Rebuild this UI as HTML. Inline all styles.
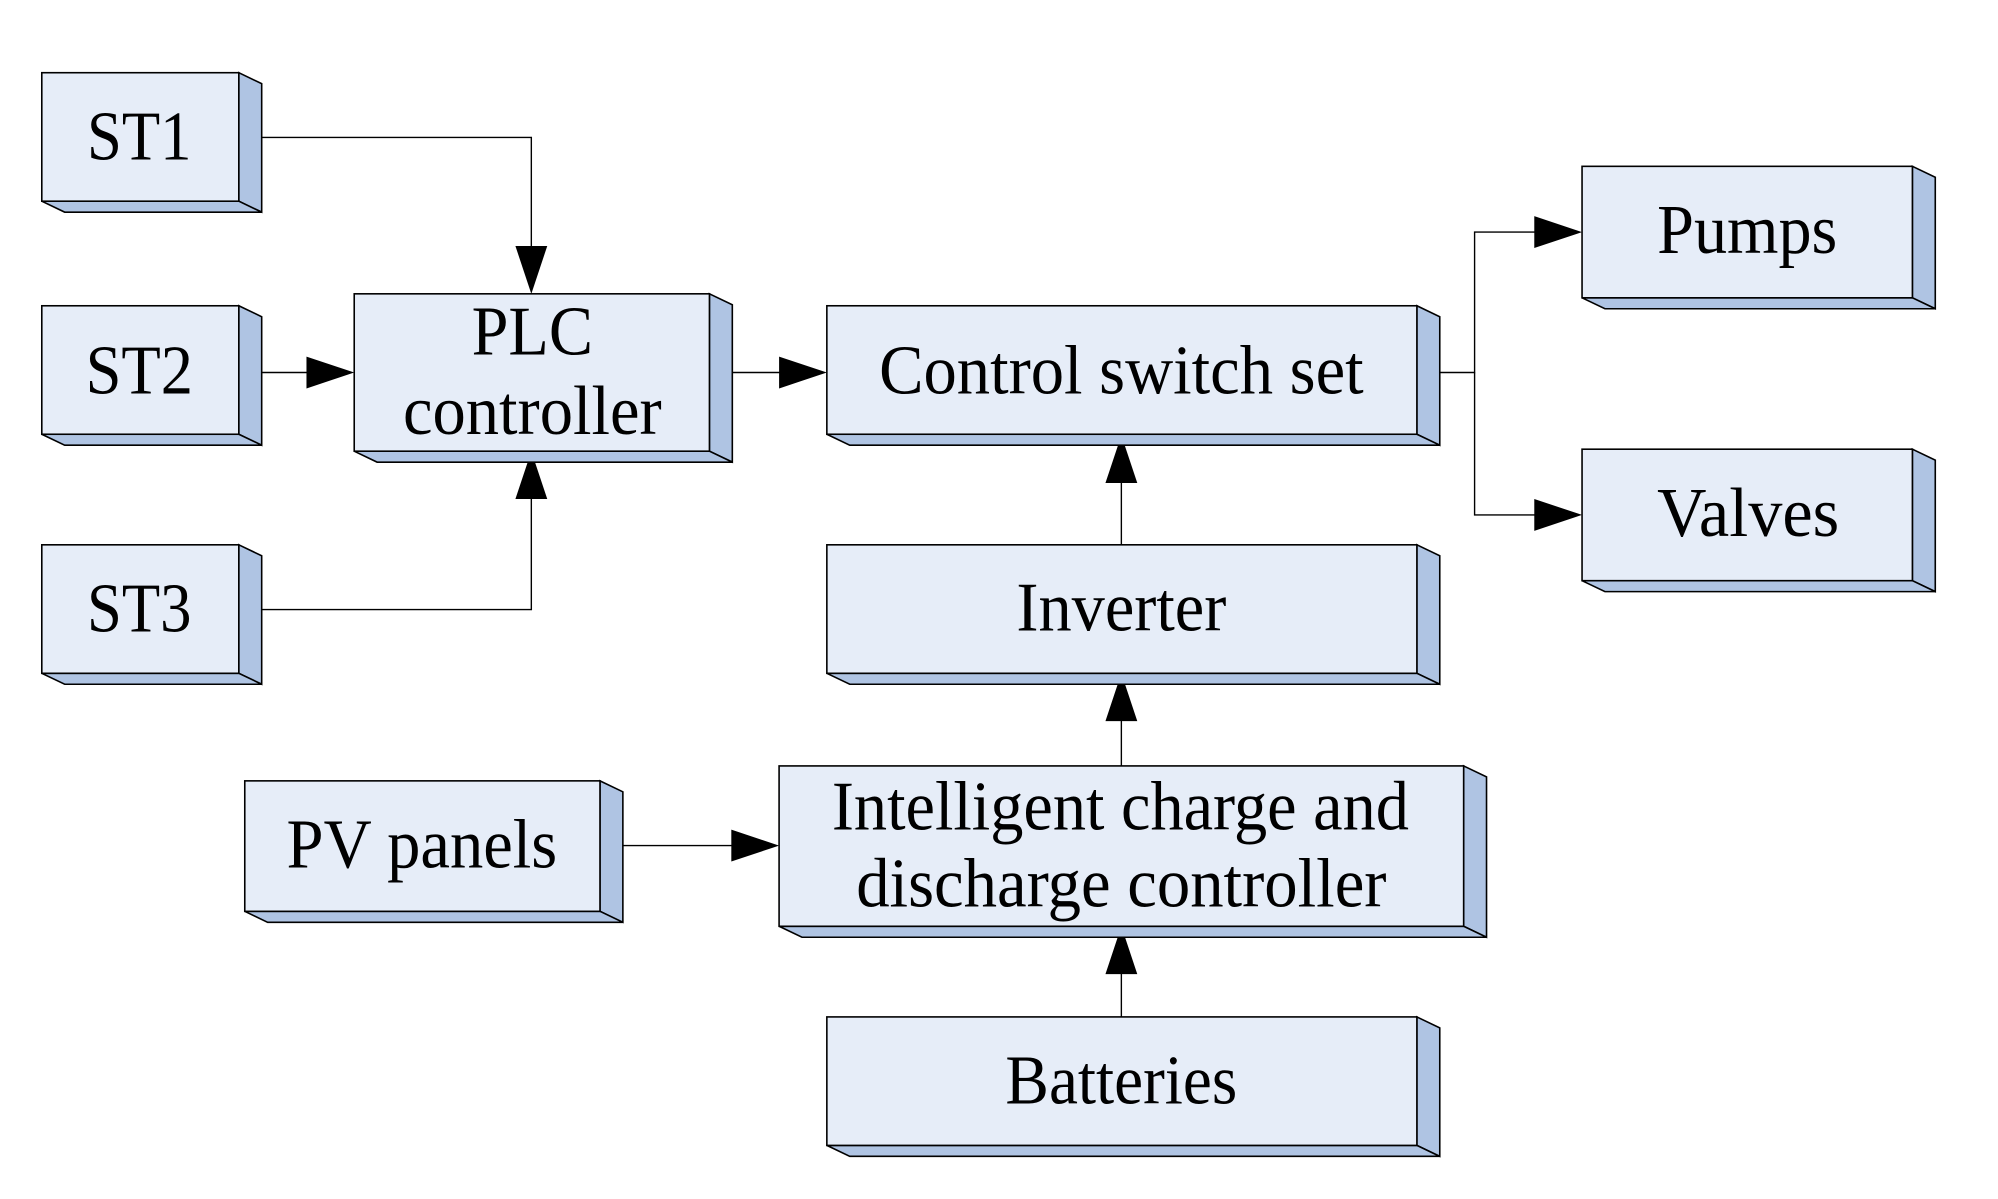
<!DOCTYPE html>
<html><head><meta charset="utf-8"><style>
html,body{margin:0;padding:0;background:#fff;}
svg{display:block;}
text{font-family:"Liberation Serif",serif;font-size:70px;fill:#000;text-anchor:middle;}
.f{fill:#e6edf8;stroke:#000;stroke-width:1.6;}
.s{fill:#afc4e3;stroke:#000;stroke-width:1.6;stroke-linejoin:miter;}
.l{stroke:#000;stroke-width:1.4;fill:none;}
.a{fill:#000;}
</style></head><body>
<svg width="1998" height="1199" viewBox="0 0 1998 1199" xmlns="http://www.w3.org/2000/svg">
<g transform="scale(0.995 0.996)">
<!-- connectors -->
<polyline class="l" points="240,138 534,138 534,260"/>
<polygon class="a" points="518,247 550,247 534,295"/>
<line class="l" x1="240" y1="374" x2="320" y2="374"/>
<polygon class="a" points="308,358 308,390 356,374"/>
<polyline class="l" points="240,612 534,612 534,488"/>
<polygon class="a" points="518,501 550,501 534,453"/>
<line class="l" x1="713" y1="374" x2="795" y2="374"/>
<polygon class="a" points="783,358 783,390 831,374"/>
<polyline class="l" points="1424,374 1482,374 1482,233 1555,233"/>
<polygon class="a" points="1542,217 1542,249 1590,233"/>
<polyline class="l" points="1482,374 1482,517 1555,517"/>
<polygon class="a" points="1542,501 1542,533 1590,517"/>
<line class="l" x1="1127" y1="547" x2="1127" y2="470"/>
<polygon class="a" points="1111,485 1143,485 1127,437"/>
<line class="l" x1="1127" y1="769" x2="1127" y2="700"/>
<polygon class="a" points="1111,724 1143,724 1127,676"/>
<line class="l" x1="1127" y1="1021" x2="1127" y2="950"/>
<polygon class="a" points="1111,978 1143,978 1127,930"/>
<line class="l" x1="603" y1="849" x2="750" y2="849"/>
<polygon class="a" points="735,833 735,865 783,849"/>

<!-- boxes -->
<g><polygon class="s" points="240,73 263,84 263,213 240,202"/><polygon class="s" points="42,202 240,202 263,213 65,213"/><rect class="f" x="42" y="73" width="198" height="129"/></g>
<g><polygon class="s" points="240,307 263,318 263,447 240,436"/><polygon class="s" points="42,436 240,436 263,447 65,447"/><rect class="f" x="42" y="307" width="198" height="129"/></g>
<g><polygon class="s" points="240,547 263,558 263,687 240,676"/><polygon class="s" points="42,676 240,676 263,687 65,687"/><rect class="f" x="42" y="547" width="198" height="129"/></g>
<g><polygon class="s" points="713,295 736,306 736,464 713,453"/><polygon class="s" points="356,453 713,453 736,464 379,464"/><rect class="f" x="356" y="295" width="357" height="158"/></g>
<g><polygon class="s" points="1424,307 1447,318 1447,447 1424,436"/><polygon class="s" points="831,436 1424,436 1447,447 854,447"/><rect class="f" x="831" y="307" width="593" height="129"/></g>
<g><polygon class="s" points="1922,167 1945,178 1945,310 1922,299"/><polygon class="s" points="1590,299 1922,299 1945,310 1613,310"/><rect class="f" x="1590" y="167" width="332" height="132"/></g>
<g><polygon class="s" points="1922,451 1945,462 1945,594 1922,583"/><polygon class="s" points="1590,583 1922,583 1945,594 1613,594"/><rect class="f" x="1590" y="451" width="332" height="132"/></g>
<g><polygon class="s" points="1424,547 1447,558 1447,687 1424,676"/><polygon class="s" points="831,676 1424,676 1447,687 854,687"/><rect class="f" x="831" y="547" width="593" height="129"/></g>
<g><polygon class="s" points="1471,769 1494,780 1494,941 1471,930"/><polygon class="s" points="783,930 1471,930 1494,941 806,941"/><rect class="f" x="783" y="769" width="688" height="161"/></g>
<g><polygon class="s" points="603,784 626,795 626,926 603,915"/><polygon class="s" points="246,915 603,915 626,926 269,926"/><rect class="f" x="246" y="784" width="357" height="131"/></g>
<g><polygon class="s" points="1424,1021 1447,1032 1447,1161 1424,1150"/><polygon class="s" points="831,1150 1424,1150 1447,1161 854,1161"/><rect class="f" x="831" y="1021" width="593" height="129"/></g>

<!-- labels -->
<text x="140" y="160" textLength="105" lengthAdjust="spacingAndGlyphs">ST1</text>
<text x="140" y="395" textLength="108" lengthAdjust="spacingAndGlyphs">ST2</text>
<text x="140" y="634" textLength="105" lengthAdjust="spacingAndGlyphs">ST3</text>
<text x="535" y="356" textLength="122" lengthAdjust="spacingAndGlyphs">PLC</text>
<text x="535" y="436" textLength="260" lengthAdjust="spacingAndGlyphs">controller</text>
<text x="1127" y="395" textLength="487" lengthAdjust="spacingAndGlyphs">Control switch set</text>
<text x="1756" y="254" textLength="181" lengthAdjust="spacingAndGlyphs">Pumps</text>
<text x="1757" y="538" textLength="183" lengthAdjust="spacingAndGlyphs">Valves</text>
<text x="1127" y="633" textLength="211" lengthAdjust="spacingAndGlyphs">Inverter</text>
<text x="1126" y="833" textLength="580" lengthAdjust="spacingAndGlyphs">Intelligent charge and</text>
<text x="1127" y="910" textLength="533" lengthAdjust="spacingAndGlyphs">discharge controller</text>
<text x="424" y="871" textLength="272" lengthAdjust="spacingAndGlyphs">PV panels</text>
<text x="1127" y="1108" textLength="233" lengthAdjust="spacingAndGlyphs">Batteries</text>
</g>
</svg>
</body></html>
